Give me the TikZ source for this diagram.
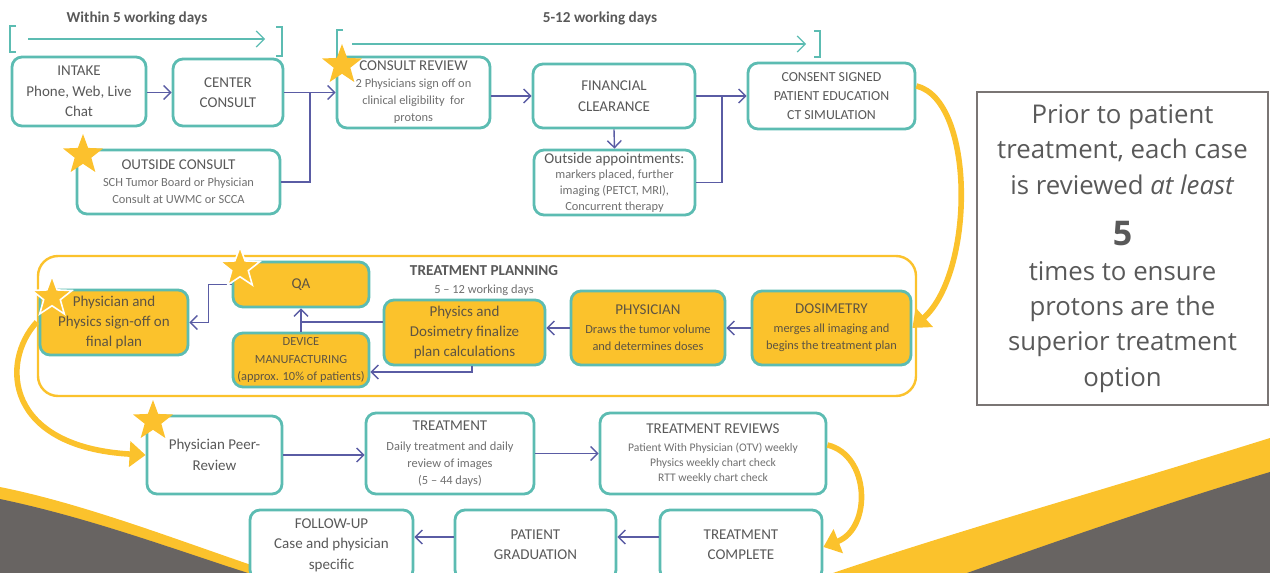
\documentclass[tikz,border=0pt]{standalone}
\usepackage{fontspec}
\setmainfont{Carlito}
\newfontfamily\notefont{Open Sans}
\usetikzlibrary{arrows.meta, positioning, shapes.geometric}

\definecolor{boxteal}{HTML}{5CBCB2}
\definecolor{flowpurple}{HTML}{5A5CA4}
\definecolor{planyellow}{HTML}{FBC22C}
\definecolor{staryellow}{HTML}{FCC12D}
\definecolor{textgray}{HTML}{595959}
\definecolor{subgray}{HTML}{707070}
\definecolor{plantext}{HTML}{5E5442}
\definecolor{swoopgray}{HTML}{686462}
\definecolor{framegray}{HTML}{7A7574}

\newcommand{\titlef}{\fontsize{7.5}{10.2}\selectfont}
\newcommand{\subf}{\fontsize{6.2}{8.5}\selectfont}
\newcommand{\tinyf}{\fontsize{5.8}{7.5}\selectfont}

\tikzset{
  flowbox/.style={draw=boxteal, line width=1.4pt, rounded corners=5pt, fill=white,
    align=center, text=textgray, font=\titlef, inner sep=1pt},
  planbox/.style={flowbox, fill=planyellow, text=plantext},
  flow/.style={draw=flowpurple, line width=0.7pt, -{Straight Barb[length=3.5pt,width=7pt]}},
  link/.style={draw=flowpurple, line width=0.7pt},
  spanline/.style={draw=boxteal, line width=0.6pt},
  markstar/.style={star, star points=5, star point ratio=2.4, fill=staryellow,
    minimum size=21pt, inner sep=0pt},
  bigarrow/.style={draw=planyellow, line width=2.8pt, -{Triangle[length=8pt,width=12.5pt]}},
}

\begin{document}
\begin{tikzpicture}[x=0.5pt, y=-0.5pt]
  \useasboundingbox (0,0) rectangle (1270,573);
  \clip (0,0) rectangle (1270,573);

  % background swooshes
  \fill[planyellow] (0,487) .. controls (90,505) and (190,545) .. (275,573) -- (0,573) -- cycle;
  \fill[swoopgray] (0,499) .. controls (90,518) and (170,548) .. (248,573) -- (0,573) -- cycle;
  \fill[planyellow] (833,573) .. controls (960,530) and (1120,485) .. (1270,438) -- (1270,573) -- cycle;
  \fill[swoopgray] (967,573) .. controls (1060,540) and (1160,505) .. (1270,472) -- (1270,573) -- cycle;

  % time spans
  \node[font=\fontsize{7.6}{9}\selectfont\bfseries, text=textgray] (within) at (137,18) {Within 5 working days};
  \node[font=\fontsize{7.6}{9}\selectfont\bfseries, text=textgray] (later) at (600,18) {5-12 working days};
  \draw[spanline] (16,26) -- (10,26) -- (10,52) -- (16,52);
  \draw[spanline] (276,27) -- (282,27) -- (282,56) -- (276,56);
  \coordinate (s1a) at (28,39);
  \coordinate (s1b) at (265,39);
  \draw[spanline, -{Straight Barb[length=4pt,width=8pt]}] (s1a) -- (s1b);
  \draw[spanline] (343,30) -- (337,30) -- (337,58);
  \draw[spanline] (814,31) -- (820,31) -- (820,57) -- (814,57);
  \coordinate (s2a) at (352,44);
  \coordinate (s2b) at (806,44);
  \draw[spanline, -{Straight Barb[length=4pt,width=8pt]}] (s2a) -- (s2b);

  % consult stage
  \node[flowbox, minimum width=67pt, minimum height=34.5pt] (intake) at (79,91.5)
    {INTAKE\\Phone, Web, Live\\Chat};
  \node[flowbox, minimum width=55pt, minimum height=33.5pt] (center) at (228,92.5)
    {CENTER\\CONSULT};
  \node[flowbox, font=\subf, text=subgray, minimum width=101.5pt, minimum height=32pt] (outside) at (178.5,182)
    {\textcolor{textgray}{\titlef OUTSIDE CONSULT}\\SCH Tumor Board or Physician\\Consult at UWMC or SCCA};
  \node[flowbox, font=\subf, text=subgray, minimum width=76.5pt, minimum height=35.5pt] (review) at (413.5,92.5)
    {\textcolor{textgray}{\titlef CONSULT REVIEW}\\2 Physicians sign off on\\clinical eligibility\ \ for\\protons};
  \node[flowbox, minimum width=81pt, minimum height=32pt] (finance) at (614,96)
    {FINANCIAL\\CLEARANCE};
  \node[flowbox, font=\fontsize{6.2}{7.8}\selectfont, text=subgray, minimum width=80.5pt, minimum height=32.5pt] (appts) at (614.5,182.5)
    {\textcolor{textgray}{\titlef Outside appointments:}\\markers placed, further\\imaging (PETCT, MRI),\\Concurrent therapy};
  \node[flowbox, minimum width=83.5pt, minimum height=33pt, font=\fontsize{6.9}{9.5}\selectfont] (consent) at (831.5,96)
    {CONSENT SIGNED\\PATIENT EDUCATION\\CT SIMULATION};

  \coordinate (j1) at (310,92.5);
  \coordinate (j2) at (722,96);
  \draw[flow] (intake.east |- center) -- (center.west);
  \draw[flow] (center.east) -- (review.west);
  \draw[link] (outside.east) -| (j1);
  \draw[flow] (finance.west -| review.east) -- (finance.west);
  \draw[flow] (finance.east) -- (consent.west);
  \draw[link] (appts.east) -| (j2);
  \draw[flow] (finance.south) -- (appts.north);

  % treatment planning
  \node[draw=planyellow, line width=1.2pt, rounded corners=10pt, fill=white,
    minimum width=439pt, minimum height=70pt] (planning) at (477,326) {};
  \node[font=\fontsize{7.6}{9}\selectfont\bfseries, text=textgray] (plantitle) at (484,271) {TREATMENT PLANNING};
  \node[font=\subf, text=subgray] (plandays) at (484,290) {5 -- 12 working days};
  \node[planbox, minimum width=68pt, minimum height=22.5pt] (qa) at (301,284.5) {QA};
  \node[planbox, minimum width=74pt, minimum height=32.5pt] (signoff) at (114,322.5)
    {Physician and\\Physics sign-off on\\final plan};
  \node[planbox, minimum width=68pt, minimum height=27pt, font=\fontsize{6.2}{8.7}\selectfont] (device) at (301,360)
    {DEVICE\\MANUFACTURING\\(approx. 10\% of patients)};
  \node[planbox, minimum width=80.5pt, minimum height=32.5pt] (finalize) at (464.5,332.5)
    {Physics and\\Dosimetry finalize\\plan calculations};
  \node[planbox, font=\subf, minimum width=77pt, minimum height=37pt] (physician) at (648,328)
    {{\titlef PHYSICIAN}\\[1pt]Draws the tumor volume\\and determines doses};
  \node[planbox, font=\subf, minimum width=79.5pt, minimum height=37pt] (dosimetry) at (831.5,328)
    {{\titlef DOSIMETRY}\\[1pt]merges all imaging and\\begins the treatment plan};

  \coordinate (j3) at (301,322);
  \draw[flow] (dosimetry.west) -- (physician.east);
  \draw[flow] (physician.west) -- (physician.west -| finalize.east);
  \draw[link] ([yshift=5.25pt]finalize.west) -- (j3);
  \draw[flow] (device.north) -- (qa.south);
  \draw[flow] ([xshift=3.75pt]finalize.south) |- ([yshift=-6pt]device.east);
  \draw[flow] (qa.west) -- ++(-23,0) |- (signoff.east);

  % treatment stage
  \node[flowbox, minimum width=67.5pt, minimum height=39pt] (peer) at (214.5,455)
    {Physician Peer-\\Review};
  \node[flowbox, font=\subf, text=subgray, minimum width=84pt, minimum height=40.5pt] (treatment) at (450,453.5)
    {\textcolor{textgray}{\titlef TREATMENT}\\[1.5pt]Daily treatment and daily\\review of images\\(5 -- 44 days)};
  \node[flowbox, font=\tinyf, text=subgray, minimum width=113pt, minimum height=40.5pt] (reviews) at (713,453.5)
    {\textcolor{textgray}{\titlef TREATMENT REVIEWS}\\[1.5pt]Patient With Physician (OTV) weekly\\Physics weekly chart check\\RTT weekly chart check};
  \node[flowbox, minimum width=81.5pt, minimum height=35pt] (followup) at (331.5,545)
    {FOLLOW-UP\\Case and physician\\specific};
  \node[flowbox, minimum width=80.5pt, minimum height=35pt] (graduation) at (535.5,545)
    {PATIENT\\GRADUATION};
  \node[flowbox, minimum width=81pt, minimum height=35pt] (complete) at (741,545)
    {TREATMENT\\COMPLETE};

  \draw[flow] (peer.east) -- (peer.east -| treatment.west);
  \draw[flow] (treatment.east) -- (reviews.west);
  \draw[flow] ([yshift=4pt]complete.west) -- ([yshift=4pt]graduation.east);
  \draw[flow] ([yshift=4pt]graduation.west) -- ([yshift=4pt]followup.east);

  % yellow stage arrows
  \draw[bigarrow] (consent.east |- 0,86) .. controls (975,100) and (975,272) .. (dosimetry.east);
  \draw[bigarrow] (planning.west |- 0,322) .. controls (0,362) and (5,447) .. (peer.west);
  \draw[bigarrow] (reviews.east |- 0,445) .. controls (870,455) and (872,528) .. ([yshift=-1pt]complete.east);

  % review marks
  \node[markstar] (star1) at (342,65) {};
  \node[markstar] (star2) at (83,155) {};
  \node[markstar, draw=white, line width=0.8pt] (star3) at (240,268) {};
  \node[markstar, draw=white, line width=0.8pt] (star4) at (52,297) {};
  \node[markstar] (star5) at (153,421) {};

  % note
  \node[draw=framegray, line width=0.7pt, minimum width=145.5pt, minimum height=156.5pt,
    align=center, text=textgray, font=\notefont\fontsize{12.9}{17.6}\selectfont] (note) at (1122.5,248.5)
    {Prior to patient\\treatment, each case\\is reviewed \textit{at least}\\[8pt]
     {\fontsize{17}{19}\selectfont\bfseries 5}\\times to ensure\\protons are the\\superior treatment\\option};
\end{tikzpicture}
\end{document}
